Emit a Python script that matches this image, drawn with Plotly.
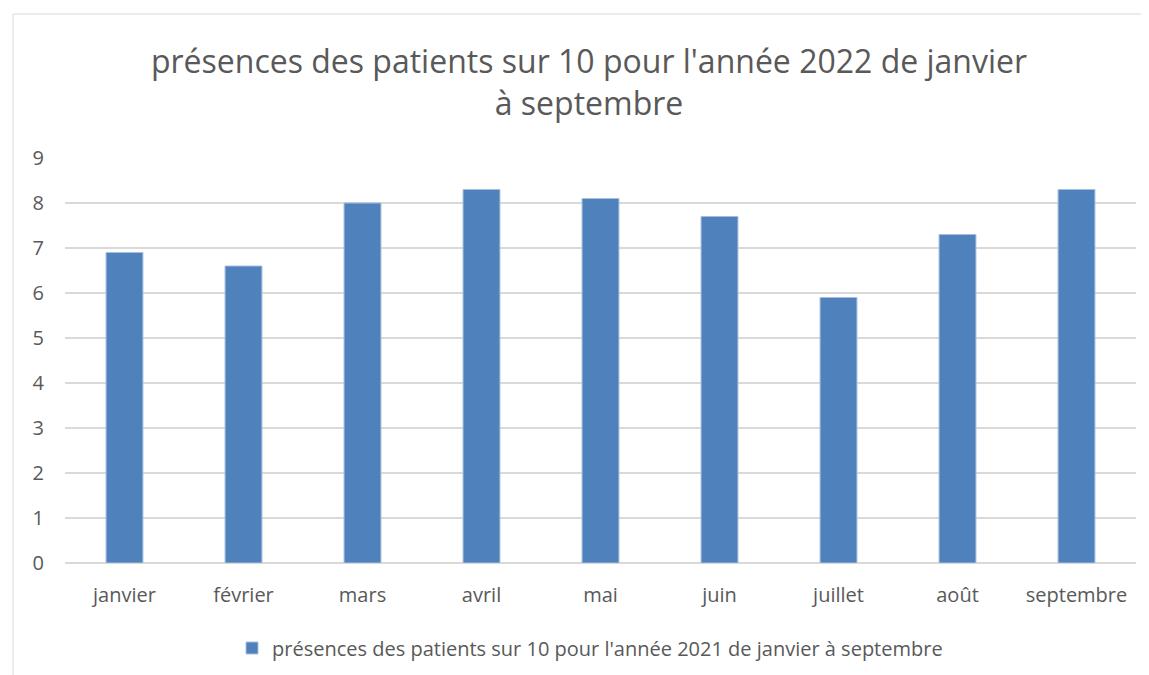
import plotly.graph_objects as go

mois = ["janvier", "février", "mars", "avril", "mai", "juin", "juillet", "août", "septembre"]
presences = [6.9, 6.6, 8.0, 8.3, 8.1, 7.7, 5.9, 7.3, 8.3]
serie = "présences des patients sur 10 pour l'année 2021 de janvier à septembre"
titre = "présences des patients sur 10 pour l'année 2022 de janvier<br>à septembre"

# la page ajoute une marge de 8 px : on travaille en coordonnées de figure
W, H = 1141, 667
L, R, T, B = 57, 13, 150, 112
pw, ph = W - L - R, H - T - B

GRIS = "#595959"
FONT = "Open Sans"

fig = go.Figure()
fig.add_trace(go.Bar(
    x=mois,
    y=presences,
    name=serie,
    marker=dict(color="#4f81bd", line=dict(color="#a7bfdc", width=1)),
    width=0.31,
    showlegend=True,
))


def px_x(v):
    return (v - L) / pw


def px_y(v):
    return (H - B - v) / ph


# cadre du graphique
fig.add_shape(type="rect", xref="paper", yref="paper",
              x0=px_x(5), x1=px_x(1160), y0=px_y(700), y1=px_y(6),
              line=dict(color="#d9d9d9", width=1), fillcolor="rgba(0,0,0,0)", layer="below")

fig.update_layout(
    width=W, height=H,
    margin=dict(l=L, r=R, t=T, b=B, autoexpand=False),
    paper_bgcolor="white",
    plot_bgcolor="white",
    font=dict(family=FONT, color=GRIS, size=20),
    title=dict(text=titre, xref="container", x=581 / W, xanchor="center",
               yref="container", y=1 - 65 / H, yanchor="middle",
               font=dict(size=32, color=GRIS, family=FONT)),
    xaxis=dict(showgrid=False, showline=False, ticks="", tickfont=dict(size=20),
               ticklabelstandoff=18, automargin=False),
    yaxis=dict(range=[0, 9], dtick=1, showgrid=True, gridcolor="#d9d9d9", gridwidth=1.5,
               zeroline=True, zerolinecolor="#d9d9d9", zerolinewidth=1.5,
               showline=False, ticks="", tickfont=dict(size=20), ticklabelstandoff=20,
               automargin=False),
    legend=dict(orientation="h", x=px_x(582), xanchor="center", y=px_y(640), yanchor="middle",
                font=dict(size=20, color=GRIS), itemwidth=30),
    bargap=0.69,
)

fig.write_html("out.html")
